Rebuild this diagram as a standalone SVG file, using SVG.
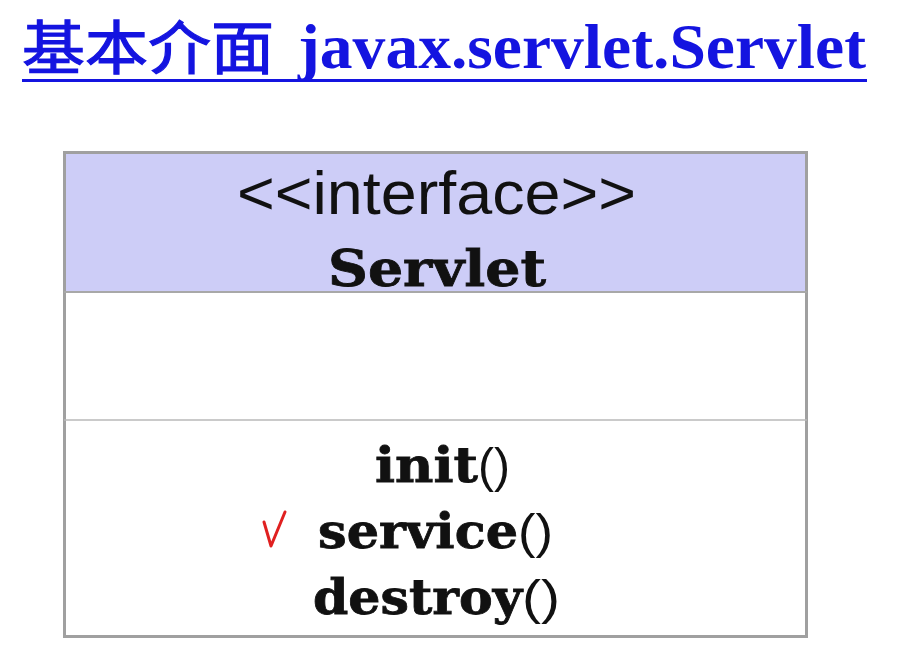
<svg xmlns="http://www.w3.org/2000/svg" width="904" height="658" viewBox="0 0 904 658">
<style>
.title{fill:#1414e0}
.cjk{font-family:"Noto Sans CJK TC","Noto Sans CJK SC",sans-serif;font-size:58px;font-weight:normal;stroke:#1414e0;stroke-width:1.2}
.lat{font-family:"Liberation Serif","Times New Roman",serif;font-size:64px;font-weight:bold}
.ster{font-family:"Liberation Sans",Arial,sans-serif;font-size:62px;fill:#111}
.name{font-family:"DejaVu Serif",serif;font-weight:bold;fill:#111;stroke:#111;stroke-width:0.8}
.par{font-family:"Liberation Sans",Arial,sans-serif;font-weight:normal;fill:#111;stroke:none}
</style>
<rect width="904" height="658" fill="#fff"/>
<g id="title">
<text class="title cjk" x="22" y="69" textLength="252" lengthAdjust="spacingAndGlyphs">基本介面</text>
<text class="title lat" x="298" y="68" textLength="568" lengthAdjust="spacingAndGlyphs">javax.servlet.Servlet</text>
<rect x="22" y="79" width="845" height="3" fill="#1414e0"/>
</g>
<g id="servlet">
<rect x="64" y="152" width="743" height="140" fill="#cdcdf7"/>
<rect x="64" y="292" width="743" height="345" fill="#fff"/>
<rect x="64.5" y="152.5" width="742" height="484" fill="none" stroke="#a0a0a0" stroke-width="3"/>
<line x1="64" y1="292" x2="807" y2="292" stroke="#a8a8a8" stroke-width="2"/>
<line x1="64" y1="420" x2="807" y2="420" stroke="#b8b8b8" stroke-width="1.5"/>
<text class="ster" x="237" y="214" textLength="399" lengthAdjust="spacingAndGlyphs">&lt;&lt;interface&gt;&gt;</text>
<text class="name" x="328" y="286" font-size="50" textLength="218" lengthAdjust="spacingAndGlyphs">Servlet</text>
<text class="name" x="375" y="482" font-size="48"><tspan textLength="103" lengthAdjust="spacingAndGlyphs">init</tspan><tspan class="par" textLength="32" lengthAdjust="spacingAndGlyphs">()</tspan></text>
<text class="name" x="318" y="548" font-size="48"><tspan textLength="200" lengthAdjust="spacingAndGlyphs">service</tspan><tspan class="par" textLength="35" lengthAdjust="spacingAndGlyphs">()</tspan></text>
<text class="name" x="313" y="614" font-size="48"><tspan textLength="209" lengthAdjust="spacingAndGlyphs">destroy</tspan><tspan class="par" textLength="38" lengthAdjust="spacingAndGlyphs">()</tspan></text>
<path d="M264 522 L271 546 L285 512" fill="none" stroke="#e02020" stroke-width="3" stroke-linecap="round" stroke-linejoin="round"/>
</g>
<g id="connectors"/>
</svg>
